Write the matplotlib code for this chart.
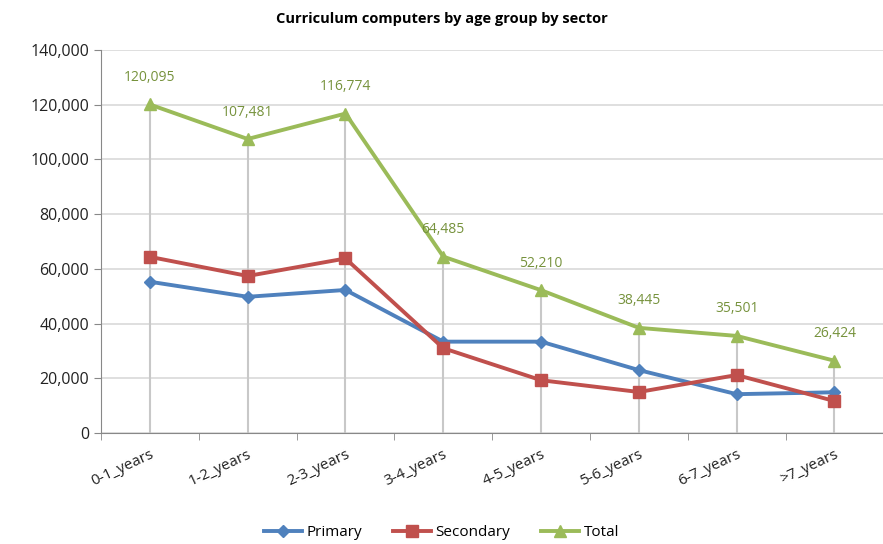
import matplotlib.pyplot as plt
import numpy as np
from matplotlib.ticker import FuncFormatter, FixedLocator

categories = ["0-1_years", "1-2_years", "2-3_years", "3-4_years",
              "4-5_years", "5-6_years", "6-7_years", ">7_years"]
primary = [55300, 49800, 52300, 33400, 33400, 23000, 14200, 14900]
secondary = [64400, 57400, 63800, 31000, 19300, 15000, 21200, 11700]
total = [120095, 107481, 116774, 64485, 52210, 38445, 35501, 26424]

plt.rcParams["font.family"] = ["Open Sans", "DejaVu Sans"]

fig = plt.figure(figsize=(8.83, 5.44), dpi=100)
ax = fig.add_axes([0.1144, 0.204, 0.886, 0.704])

x = np.arange(len(categories))

# drop lines from the highest point down to the axis
ax.vlines(x, 0, total, color="#c8c8c8", linewidth=1.5, zorder=1)

ax.plot(x, primary, color="#4F81BD", linewidth=2.8, marker="D", markersize=6,
        label="Primary", zorder=3)
ax.plot(x, secondary, color="#C0504D", linewidth=2.8, marker="s", markersize=8,
        label="Secondary", zorder=3)
ax.plot(x, total, color="#9BBB59", linewidth=2.8, marker="^", markersize=8,
        label="Total", zorder=3)

for xi, v in zip(x, total):
    ax.annotate(f"{v:,}", (xi, v), xytext=(0, 14), textcoords="offset points",
                ha="center", va="bottom", fontsize=10, color="#76923C")

ax.set_xlim(-0.5, len(categories) - 0.5)
ax.set_ylim(0, 140000)
ax.set_yticks(np.arange(0, 140001, 20000))
ax.yaxis.set_major_formatter(FuncFormatter(lambda v, p: f"{int(v):,}"))
ax.grid(True, axis="y", color="#d9d9d9", linewidth=1.2, zorder=0)
ax.set_axisbelow(True)

ax.set_xticks(x)
ax.set_xticklabels(categories, rotation=25, ha="right", rotation_mode="anchor",
                   fontsize=11, color="#222222")
ax.tick_params(axis="x", which="major", length=0, pad=10)
ax.xaxis.set_minor_locator(FixedLocator(np.arange(-0.5, len(categories), 1)))
ax.tick_params(axis="x", which="minor", length=5, color="#888888")
ax.tick_params(axis="y", length=5, color="#888888", labelsize=11.5,
               labelcolor="#222222")

for side in ["top", "right"]:
    ax.spines[side].set_visible(False)
for side in ["left", "bottom"]:
    ax.spines[side].set_color("#888888")

fig.suptitle("Curriculum computers by age group by sector", x=0.5, y=0.978,
             fontsize=10.5, fontweight="bold")

fig.legend(loc="lower center", bbox_to_anchor=(0.5, -0.018), ncol=3,
           frameon=False, fontsize=11, handlelength=2.5, columnspacing=2.0,
           handletextpad=0.3)

fig.savefig("out.png", dpi=100)
